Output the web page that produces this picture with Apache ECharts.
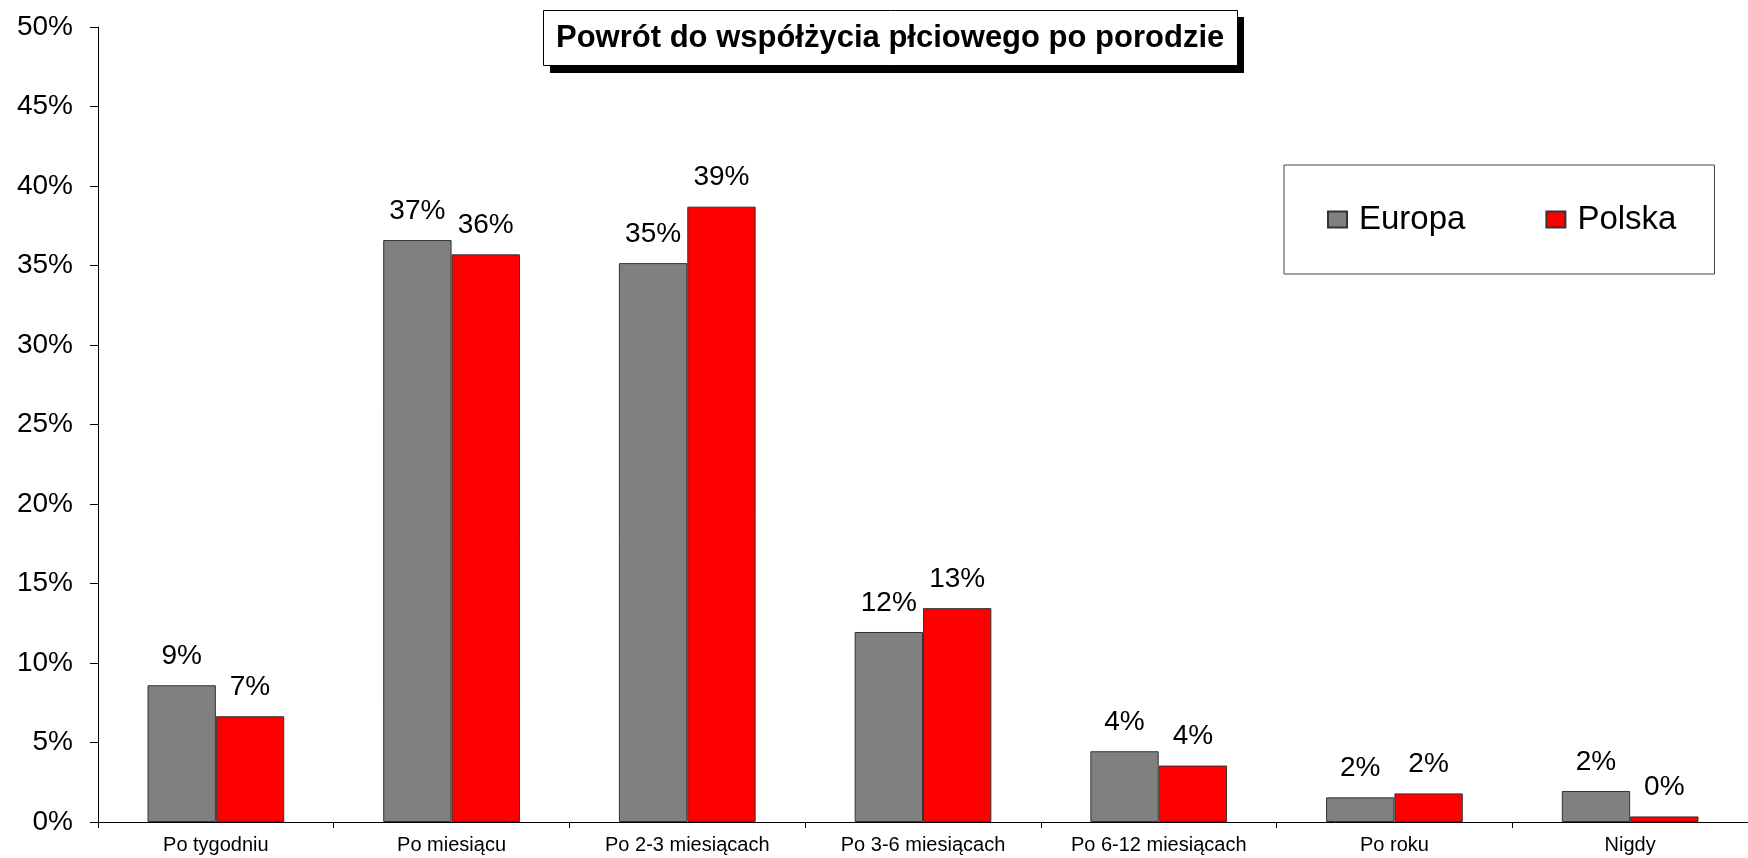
<!DOCTYPE html>
<html>
<head>
<meta charset="utf-8">
<script src="https://cdn.jsdelivr.net/npm/echarts@6/dist/echarts.min.js"></script>
<style>
  html, body { margin: 0; padding: 0; background: #fff; }
  #chart { width: 1748px; height: 858px; }
</style>
</head>
<body>
<div id="chart"></div>
<script>
// kategorie i wartości (w %)
var categories = ['Po tygodniu', 'Po miesiącu', 'Po 2-3 miesiącach', 'Po 3-6 miesiącach', 'Po 6-12 miesiącach', 'Po roku', 'Nigdy']
var europa = [8.6, 36.6, 35.15, 11.95, 4.45, 1.55, 1.95]
var polska = [6.65, 35.7, 38.7, 13.45, 3.55, 1.8, 0.35]

var fontFamily = 'Arial, "Liberation Sans", sans-serif'

var chart = echarts.init(document.getElementById('chart'))

var barLabel = {
    show: true,
    position: 'top',
    distance: 15,
    color: '#000',
    fontSize: 28,
    fontFamily: fontFamily,
    formatter: function (p) { return Math.round(p.value) + '%' }
}

var option = {
    animation: false,
    backgroundColor: '#fff',
    title: {
        text: 'Powrót do współżycia płciowego po porodzie',
        left: 543,
        top: 10,
        padding: [12, 13],
        backgroundColor: '#fff',
        borderColor: '#000',
        borderWidth: 1,
        textStyle: {
            fontFamily: fontFamily,
            fontWeight: 'bold',
            fontSize: 31,
            lineHeight: 32,
            color: '#000'
        }
    },
    // cień pod ramką tytułu
    graphic: [{
        type: 'rect',
        z: 0,
        shape: { x: 550, y: 17, width: 694, height: 56 },
        style: { fill: '#000' }
    }],
    legend: {
        left: 1284,
        top: 165,
        padding: [38, 38, 38, 43],
        itemGap: 80,
        itemWidth: 19,
        itemHeight: 16,
        backgroundColor: '#fff',
        borderColor: '#444',
        borderWidth: 1,
        icon: 'rect',
        textStyle: { fontFamily: fontFamily, fontSize: 33, color: '#000', padding: [0, 0, 0, 7] },
        data: ['Europa', 'Polska']
    },
    grid: {
        left: 98,
        top: 27,
        width: 1664,
        height: 795,
        containLabel: false
    },
    xAxis: {
        type: 'category',
        data: categories,
        axisLine: { lineStyle: { color: '#000', width: 1 } },
        axisTick: { show: true, length: 6, lineStyle: { color: '#000' } },
        axisLabel: { color: '#000', fontSize: 20, fontFamily: fontFamily, margin: 13, interval: 0 }
    },
    yAxis: {
        type: 'value',
        min: 0,
        max: 50,
        interval: 5,
        axisLine: { show: true, lineStyle: { color: '#000', width: 1 } },
        axisTick: { show: true, length: 8, lineStyle: { color: '#000' } },
        axisLabel: { color: '#000', fontSize: 28, fontFamily: fontFamily, margin: 25, formatter: '{value}%' },
        splitLine: { show: false }
    },
    series: [
        {
            name: 'Europa',
            type: 'bar',
            data: europa,
            barGap: '0%',
            barCategoryGap: '42%',
            itemStyle: { color: '#808080', borderColor: '#333', borderWidth: 1 },
            label: barLabel
        },
        {
            name: 'Polska',
            type: 'bar',
            data: polska,
            itemStyle: { color: '#ff0000', borderColor: '#333', borderWidth: 1 },
            label: barLabel
        }
    ]
}

chart.setOption(option)
</script>
</body>
</html>
